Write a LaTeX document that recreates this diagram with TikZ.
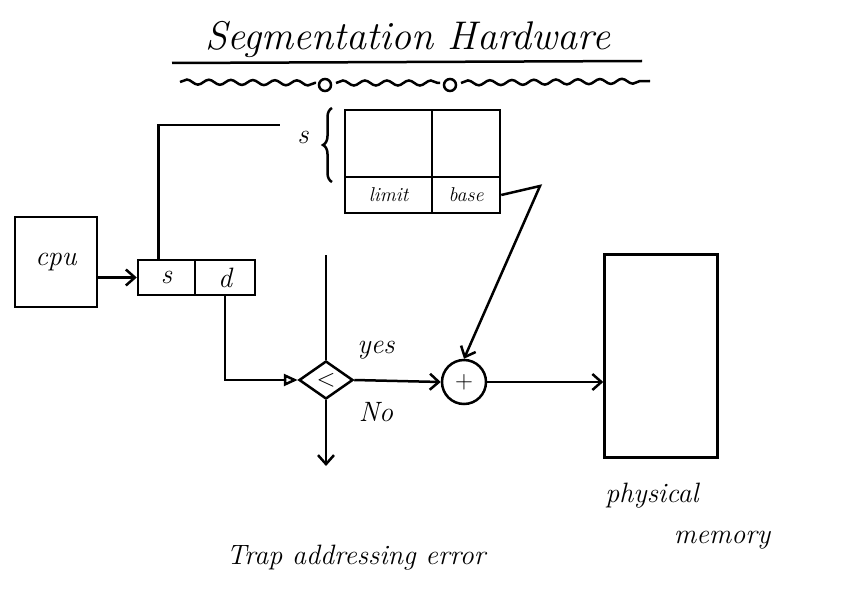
\documentclass[tikz,border=0pt]{standalone}
\usepackage{tikz}
\usetikzlibrary{positioning,arrows.meta,shapes.geometric,decorations.pathreplacing,decorations.pathmorphing}

\begin{document}
\begin{tikzpicture}[x=1pt, y=-1pt, line width=2.5pt, font=\fontsize{28}{32}\selectfont\itshape,
    >={Straight Barb[length=9pt,width=16pt]},
    cell/.style={draw, rectangle, inner sep=0pt, align=center},
    cmpbox/.style={draw, diamond, inner sep=0pt, minimum width=54pt, minimum height=38pt, aspect=1.4},
    adder/.style={draw, circle, inner sep=0pt, minimum size=44pt},
    wave/.style={decorate, decoration={snake, amplitude=2.5pt, segment length=22pt}}]
  \useasboundingbox (0,0) rectangle (850,596);
  % title
  \node (title) at (408,40) {\fontsize{40}{46}\selectfont Segmentation Hardware};
  \draw (172,63) -- (642,61);
  \draw[wave] (180,82) -- (316,83);
  \draw (325,85) circle (6);
  \draw[wave] (336,83) -- (440,83);
  \draw (450,85) circle (6);
  \draw[wave] (461,83) -- (650,81);
  % boxes
  \node[cell, minimum width=82pt, minimum height=90pt] (cpu) at (56,262) {cpu};
  \node[cell, minimum width=57pt, minimum height=35pt] (seg) at (166.5,277.5) {s};
  \node[cell, minimum width=60pt, minimum height=35pt] (off) at (225,277.5) {d};
  \node[cell, minimum width=87pt, minimum height=67pt] (entry1) at (388.5,143.5) {};
  \node[cell, minimum width=68pt, minimum height=67pt] (entry2) at (466,143.5) {};
  \node[cell, minimum width=87pt, minimum height=36pt, font=\fontsize{20}{22}\selectfont\itshape] (limit) at (388.5,195) {limit};
  \node[cell, minimum width=68pt, minimum height=36pt, font=\fontsize{20}{22}\selectfont\itshape] (base) at (466,195) {base};
  \node (sidx) at (303,137) {s};
  \draw[decorate, decoration={brace, amplitude=9pt}] (332,182) -- (332,108);
  \node[cmpbox] (cmp) at (326,380) {$<$};
  \node[adder] (add) at (464,382) {$+$};
  \node[cell, minimum width=113pt, minimum height=203pt] (mem) at (661,356) {};
  % labels
  \node (yes) at (376,350) {yes};
  \node (no) at (376,412) {No};
  \node (trap) at (356,558) {Trap addressing error};
  \node (phys) at (652,496) {physical};
  \node (memlbl) at (722,540) {memory};
  % connectors
  \coordinate (stop) at (280,125);
  \coordinate (lim) at (326,255);
  \coordinate (turn) at (540,186);
  \coordinate (trapend) at (326,466);
  \draw[->] (cpu.east |- seg) -- (seg.west);
  \draw ([xshift=-8pt]seg.north) |- (stop);
  \draw[-{Triangle[open,length=14pt,width=12pt]}] (off.south) |- (cmp.west);
  \draw (lim) -- (cmp.north);
  \draw[->] (cmp.east) -- (add.west);
  \draw[->] (base.east) -- (turn) -- (add.north);
  \draw[->] (add.east) -- (add.east -| mem.west);
  \draw[->] (cmp.south) -- (trapend);
\end{tikzpicture}
\end{document}
